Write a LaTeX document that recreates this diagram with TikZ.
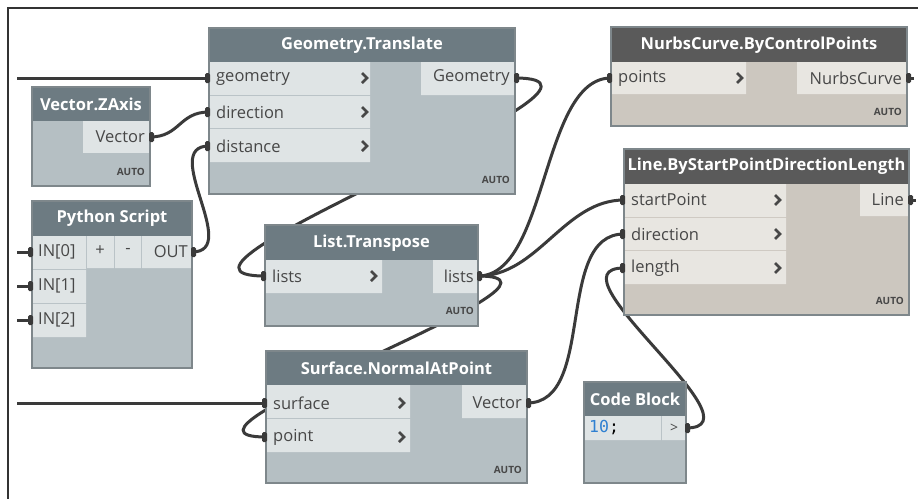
\documentclass[tikz,border=0pt]{standalone}
\usepackage{fontspec}
\setmainfont{Open Sans}
\newfontfamily\codefont{DejaVu Sans Mono}
\usetikzlibrary{backgrounds}
\definecolor{headc}{HTML}{6D7B82}
\definecolor{headd}{HTML}{5A5A5A}
\definecolor{bodyc}{HTML}{B5BFC3}
\definecolor{bodyw}{HTML}{CCC7BF}
\definecolor{cellc}{HTML}{DFE4E5}
\definecolor{cellw}{HTML}{E8E6E1}
\definecolor{edgec}{HTML}{7E878B}
\definecolor{txtc}{HTML}{474747}
\definecolor{wirec}{HTML}{3A3A3A}
\definecolor{codeblue}{HTML}{2F80D1}
\tikzset{
  edge/.style={draw=edgec, line width=1.2pt},
  title/.style={text=white, font=\fontsize{16.5}{19}\selectfont\bfseries, inner sep=0pt},
  port/.style={text=txtc, font=\fontsize{16.5}{19}\selectfont, inner sep=0pt},
  auto/.style={text=txtc, font=\fontsize{10}{12}\selectfont\bfseries, inner sep=0pt, anchor=east},
  wire/.style={draw=wirec, line width=3pt},
  chev/.pic={\draw[txtc, line width=2.6pt] (-3,-5) -- (2,0) -- (-3,5);},
  inpin/.pic={\fill[wirec, rounded corners=1.5pt] (-4,-5) rectangle (1,5);},
  outpin/.pic={\fill[wirec, rounded corners=1.5pt] (-1,-5) rectangle (4,5);}
}
\begin{document}
\begin{tikzpicture}[x=1pt, y=-1pt]
  \useasboundingbox (0,0) rectangle (918,499);

  \fill[bodyc] (209,28) rectangle (515,194);
  \fill[headc] (209,28) rectangle (515,62);
  \fill[cellc] (209,62) rectangle (370,95) (209,96) rectangle (370,128)
    (209,129) rectangle (370,162) (421,62) rectangle (515,95);
  \draw[edge] (209,28) rectangle (515,194);
  \node[title] (gt) at (362,45) {Geometry.Translate};
  \node[port, anchor=west] (gt-geometry) at (216,78) {geometry};
  \node[port, anchor=west] (gt-direction) at (216,112) {direction};
  \node[port, anchor=west] (gt-distance) at (216,146) {distance};
  \node[port, anchor=east] (gt-Geometry) at (510,78) {Geometry};
  \node[auto] (gt-auto) at (510,180) {AUTO};
  \pic at (365,78) {chev};
  \pic at (365,112) {chev};
  \pic at (365,146) {chev};
  \coordinate (gt-in1) at (209,78);
  \coordinate (gt-in2) at (209,112);
  \coordinate (gt-in3) at (209,146);
  \coordinate (gt-out) at (515,78);

  \fill[bodyc] (32,87) rectangle (150,186);
  \fill[headc] (32,87) rectangle (150,121);
  \fill[cellc] (83,121) rectangle (150,153);
  \draw[edge] (32,87) rectangle (150,186);
  \node[title] (vz) at (91,104) {Vector.ZAxis};
  \node[port, anchor=east] (vz-vector) at (145,137) {Vector};
  \node[auto] (vz-auto) at (145,172) {AUTO};
  \coordinate (vz-out) at (150,137);

  \fill[bodyc] (32,201) rectangle (192,368);
  \fill[headc] (32,201) rectangle (192,236);
  \fill[cellc] (32,236) rectangle (86,269) (32,270) rectangle (86,303)
    (32,304) rectangle (86,337) (87,236) rectangle (114,268)
    (115,236) rectangle (141,268) (142,236) rectangle (192,268);
  \draw[edge] (32,201) rectangle (192,368);
  \node[title] (py) at (112,218) {Python Script};
  \node[port, anchor=west] (py-in0) at (38,252) {IN[0]};
  \node[port, anchor=west] (py-in1) at (38,286) {IN[1]};
  \node[port, anchor=west] (py-in2) at (38,320) {IN[2]};
  \node[port] (py-plus) at (100,251) {+};
  \node[port] (py-minus) at (128,251) {-};
  \node[port, anchor=east] (py-OUT) at (188,252) {OUT};
  \coordinate (py-i0) at (32,252);
  \coordinate (py-i1) at (32,286);
  \coordinate (py-i2) at (32,320);
  \coordinate (py-out) at (192,252);

  \fill[bodyc] (265,225) rectangle (478,326);
  \fill[headc] (265,225) rectangle (478,260);
  \fill[cellc] (265,260) rectangle (382,293) (433,260) rectangle (478,293);
  \draw[edge] (265,225) rectangle (478,326);
  \node[title] (lt) at (371.5,243) {List.Transpose};
  \node[port, anchor=west] (lt-lists) at (272,276) {lists};
  \node[port, anchor=east] (lt-Lists) at (474,276) {lists};
  \node[auto] (lt-auto) at (474,311) {AUTO};
  \pic at (374,276) {chev};
  \coordinate (lt-in) at (265,276);
  \coordinate (lt-out) at (478,276);

  \fill[bodyc] (266,351) rectangle (527,483);
  \fill[headc] (266,351) rectangle (527,385);
  \fill[cellc] (266,385) rectangle (410,418) (266,419) rectangle (410,452)
    (462,385) rectangle (527,418);
  \draw[edge] (266,351) rectangle (527,483);
  \node[title] (sn) at (396.5,368) {Surface.NormalAtPoint};
  \node[port, anchor=west] (sn-surface) at (273,403) {surface};
  \node[port, anchor=west] (sn-point) at (273,437) {point};
  \node[port, anchor=east] (sn-vector) at (522,403) {Vector};
  \node[auto] (sn-auto) at (522,470) {AUTO};
  \pic at (402,403) {chev};
  \pic at (402,437) {chev};
  \coordinate (sn-in1) at (266,403);
  \coordinate (sn-in2) at (266,437);
  \coordinate (sn-out) at (527,403);

  \fill[bodyw] (611,27) rectangle (907,126);
  \fill[headd] (611,27) rectangle (907,62);
  \fill[cellw] (611,62) rectangle (746,94) (797,62) rectangle (907,94);
  \draw[edge] (611,27) rectangle (907,126);
  \node[title] (nc) at (759,45) {NurbsCurve.ByControlPoints};
  \node[port, anchor=west] (nc-points) at (618,78) {points};
  \node[port, anchor=east] (nc-curve) at (902,78) {NurbsCurve};
  \node[auto] (nc-auto) at (902,112) {AUTO};
  \pic at (740,78) {chev};
  \coordinate (nc-in) at (611,78);
  \coordinate (nc-out) at (907,78);

  \fill[bodyw] (624,149) rectangle (909,315);
  \fill[headd] (624,149) rectangle (909,184);
  \fill[cellw] (624,184) rectangle (786,217) (624,218) rectangle (786,250)
    (624,251) rectangle (786,284) (860,184) rectangle (909,216);
  \draw[edge] (624,149) rectangle (909,315);
  \node[title] (ln) at (766.5,166) {Line.ByStartPointDirectionLength};
  \node[port, anchor=west] (ln-start) at (631,200) {startPoint};
  \node[port, anchor=west] (ln-direction) at (631,234) {direction};
  \node[port, anchor=west] (ln-length) at (631,268) {length};
  \node[port, anchor=east] (ln-line) at (904,200) {Line};
  \node[auto] (ln-auto) at (904,301) {AUTO};
  \pic at (778,200) {chev};
  \pic at (778,234) {chev};
  \pic at (778,268) {chev};
  \coordinate (ln-in1) at (624,200);
  \coordinate (ln-in2) at (624,234);
  \coordinate (ln-in3) at (624,268);
  \coordinate (ln-out) at (909,200);

  \fill[bodyc] (584,382) rectangle (686,483);
  \fill[headc] (584,382) rectangle (686,416);
  \fill[cellc] (584,416) rectangle (661,440) (662,416) rectangle (686,440);
  \draw[edge] (584,382) rectangle (686,483);
  \node[title] (cb) at (635,399) {Code Block};
  \node[anchor=west, inner sep=0pt, font=\codefont\fontsize{16.5}{19}\selectfont]
    (cb-code) at (589,428) {\textcolor{codeblue}{10};};
  \node[port, font=\fontsize{14}{16}\selectfont] (cb-gt) at (674,428) {>};
  \coordinate (cb-out) at (686,428);

  \coordinate (feed1) at (17,78);
  \coordinate (feed2) at (17,403);
  \coordinate (feed3) at (17,252);
  \coordinate (feed4) at (17,286);
  \coordinate (feed5) at (17,320);
  \coordinate (exit1) at (914,78);
  \coordinate (exit2) at (916,200);

  \begin{scope}[on background layer]
    \fill[white] (0,0) rectangle (918,499);
    \draw[wire] (feed1) -- (gt-in1);
    \draw[wire] (feed2) -- (sn-in1);
    \draw[wire] (feed3) -- (py-i0);
    \draw[wire] (feed4) -- (py-i1);
    \draw[wire] (feed5) -- (py-i2);
    \draw[wire] (nc-out) -- (exit1);
    \draw[wire] (ln-out) -- (exit2);
    \draw[wire] (vz-out) .. controls +(30,0) and +(-30,0) .. (gt-in2);
    \draw[wire] (py-out) .. controls +(50,0) and +(-50,0) .. (gt-in3);
    \draw[wire] (gt-out) .. controls +(150,0) and +(-150,0) .. (lt-in);
    \draw[wire] (lt-out) .. controls +(70,0) and +(-70,0) .. (nc-in);
    \draw[wire] (lt-out) .. controls +(60,0) and +(-60,0) .. (ln-in1);
    \draw[wire] (lt-out) .. controls +(130,0) and +(-130,0) .. (sn-in2);
    \draw[wire] (sn-out) .. controls +(70,0) and +(-70,0) .. (ln-in2);
    \draw[wire] (cb-out) .. controls +(80,0) and +(-80,0) .. (ln-in3);
  \end{scope}

  \foreach \p in {gt-in1,gt-in2,gt-in3,py-i0,py-i1,py-i2,lt-in,sn-in1,sn-in2,nc-in,ln-in1,ln-in2,ln-in3}
    \pic at (\p) {inpin};
  \foreach \p in {gt-out,vz-out,py-out,lt-out,sn-out,nc-out,ln-out,cb-out}
    \pic at (\p) {outpin};

  \draw[draw=black!80, line width=1.5pt] (918,8) -- (8,8) -- (8,499);
\end{tikzpicture}
\end{document}
